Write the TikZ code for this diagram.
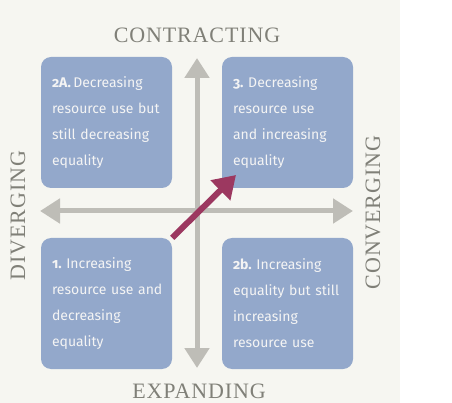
\documentclass[tikz,border=0pt]{standalone}
\usepackage{fontspec}
\usetikzlibrary{arrows.meta}
\newfontfamily\boxfont{Fira Sans}[Numbers=OldStyle]
\newfontfamily\labfont{Liberation Serif}[LetterSpace=4]
\definecolor{bgc}{RGB}{246,246,241}
\definecolor{boxc}{RGB}{147,168,203}
\definecolor{axisc}{RGB}{190,189,183}
\definecolor{redc}{RGB}{156,56,96}
\definecolor{labc}{RGB}{128,128,120}
\definecolor{boxtxt}{RGB}{244,244,244}
\pgfdeclarelayer{front}
\pgfsetlayers{main,front}
\tikzset{
  quad/.style={fill=boxc, draw=none, rounded corners=10pt, minimum width=131pt, minimum height=131pt,
    text width=109pt, inner xsep=11pt, inner ysep=0pt, align=left, text=boxtxt,
    font=\boxfont\fontsize{14}{26}\selectfont\frenchspacing},
  axis/.style={draw=axisc, line width=5pt, {Triangle[length=20pt,width=24pt]}-{Triangle[length=20pt,width=24pt]}},
  shift arrow/.style={draw=redc, line width=6pt, -{Triangle[length=22pt,width=27pt]}},
  lab/.style={text=labc, font=\labfont\fontsize{22}{24}\selectfont, inner sep=0pt, anchor=base}
}
\begin{document}
\begin{tikzpicture}[x=1pt,y=-1pt]
\useasboundingbox (0,0) rectangle (452,403);
\fill[white] (0,0) rectangle (452,403);
\fill[bgc] (0,0) rectangle (400,403);
% axes
\coordinate (top) at (197,58);
\coordinate (bot) at (197,368);
\coordinate (lft) at (40,211);
\coordinate (rgt) at (353,211);
\draw[axis] (top) -- (bot);
\draw[axis] (lft) -- (rgt);
% boxes
\node[quad] (b2a) at (106.5,122.5) {\mbox{\textbf{2A.}\,Decreasing}\\\mbox{resource use but}\\\mbox{still decreasing}\\\mbox{equality}};
\node[quad] (b3) at (287.5,122.5) {\mbox{\textbf{3.} Decreasing}\\\mbox{resource use}\\\mbox{and increasing}\\\mbox{equality}};
\node[quad] (b2b) at (287.5,303.5) {\mbox{\textbf{2b.} Increasing}\\\mbox{equality but still}\\\mbox{increasing}\\\mbox{resource use}};
\begin{pgfonlayer}{front}
\node[quad] (b1) at (106.5,303.5) {\mbox{\textbf{1.} Increasing}\\\mbox{resource use and}\\\mbox{decreasing}\\\mbox{equality}};
\end{pgfonlayer}
% shift arrow
\coordinate (goal) at (236,175);
\draw[shift arrow] (b1.north east) -- (goal);
% labels
\node[lab] (contr) at (197,42.3) {CONTRACTING};
\node[lab] (expan) at (199,398.5) {EXPANDING};
\node[lab, rotate=90] (diver) at (25,215.5) {DIVERGING};
\node[lab, rotate=90] (conve) at (380,212.5) {CONVERGING};
\end{tikzpicture}
\end{document}
